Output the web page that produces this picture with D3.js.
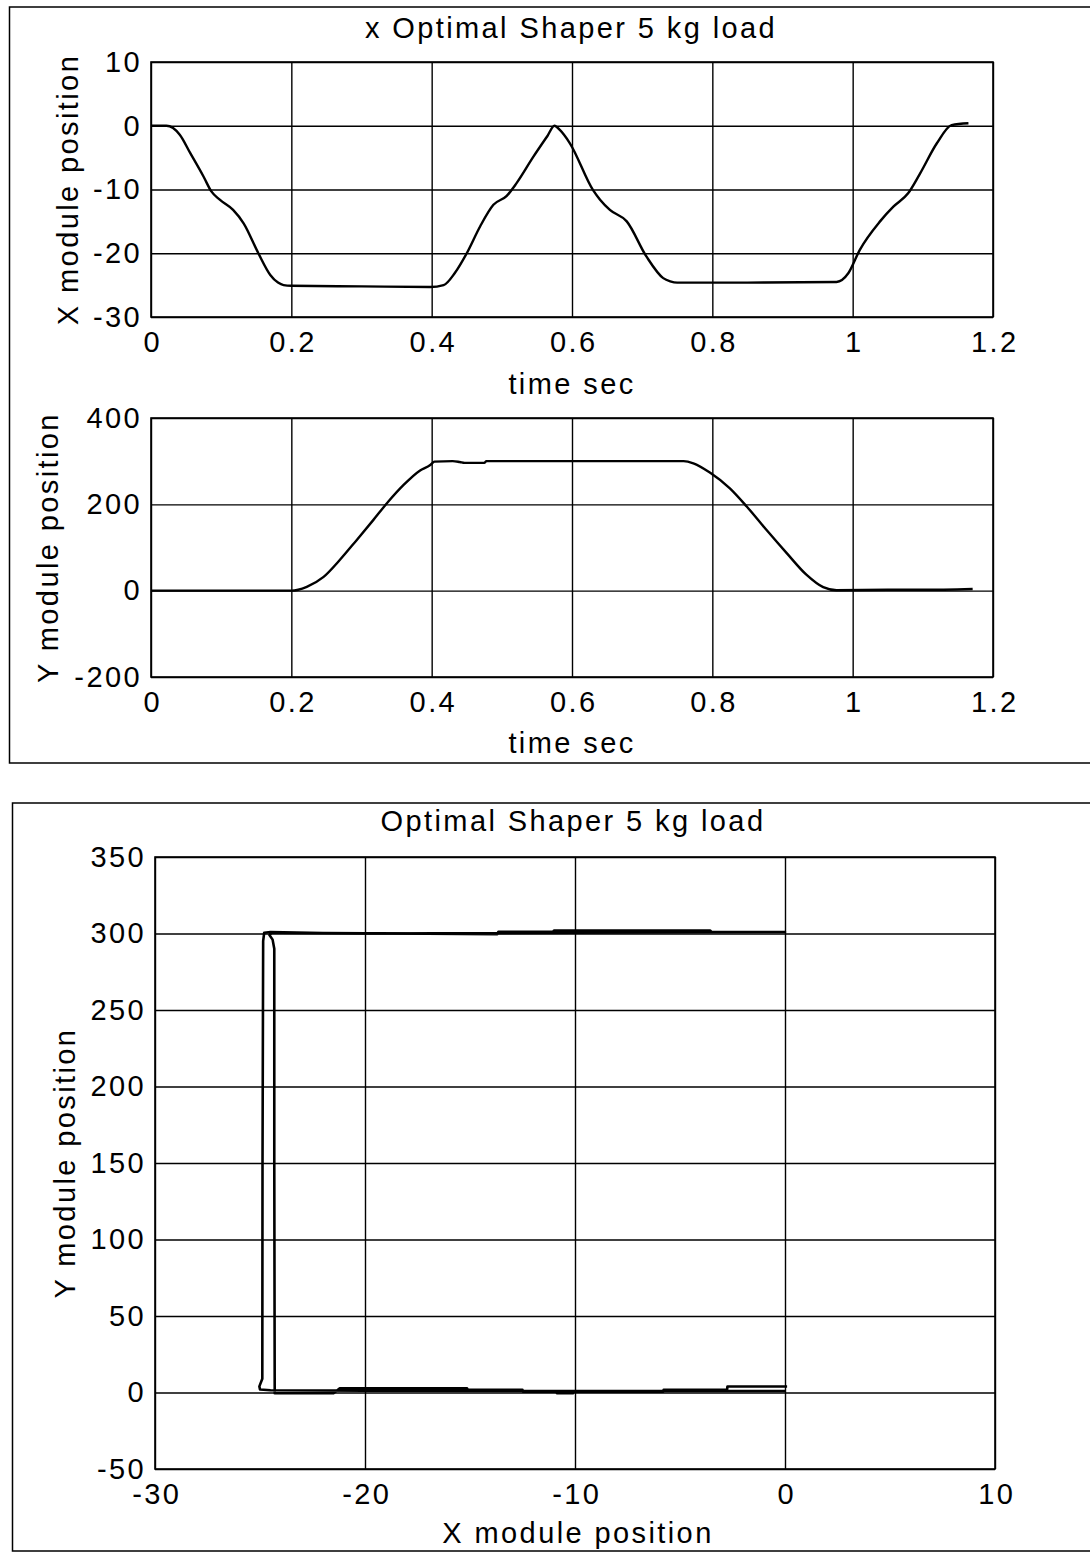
<!DOCTYPE html>
<html>
<head>
<meta charset="utf-8">
<script src="https://cdn.jsdelivr.net/npm/d3@7"></script>
<style>
  html, body { margin: 0; padding: 0; background: #fff; }
  svg { display: block; }
  text { font-family: "Liberation Sans", Arial, sans-serif; fill: #000; }
</style>
</head>
<body>
<svg id="chart" width="1090" height="1553"></svg>
<script>
// ---- X module position over time (optimal shaper, 5 kg load) ----
const timeX = [0, 0.022, 0.041, 0.056, 0.075, 0.086, 0.098, 0.117, 0.132, 0.153, 0.170, 0.181, 0.189, 0.20, 0.30, 0.398,
  0.417, 0.433, 0.45, 0.469, 0.488, 0.507, 0.521, 0.545, 0.565, 0.575, 0.583, 0.597, 0.630, 0.640, 0.654, 0.678, 0.706,
  0.730, 0.740, 0.750, 0.85, 0.977, 0.994, 1.010, 1.039, 1.058, 1.079, 1.096, 1.12, 1.141, 1.165];
const xModule = [0, 0, -1.4, -4.3, -8.0, -10.3, -11.6, -13.2, -15.3, -20.0, -23.4, -24.6, -25.0, -25.1, -25.2, -25.3,
  -25.0, -23.1, -20, -15.8, -12.4, -11.0, -9.0, -4.85, -1.6, 0, -0.7, -2.75, -10.1, -11.6, -13.2, -15.0, -20.5,
  -23.9, -24.4, -24.6, -24.6, -24.5, -23.1, -19.5, -15.0, -12.7, -10.6, -7.5, -2.75, 0.1, 0.4];

// ---- Y module position over time ----
const timeY = [0, 0.10, 0.20, 0.222, 0.246, 0.269, 0.293, 0.317, 0.338, 0.360, 0.383, 0.398, 0.404, 0.43, 0.44, 0.447,
  0.475, 0.478, 0.50, 0.60, 0.70, 0.759, 0.773, 0.797, 0.825, 0.849, 0.877, 0.906, 0.934, 0.958, 0.977, 1.05, 1.10, 1.171];
const yModule = [0, 0, 0, 9, 32, 71, 117, 164, 206, 245, 278, 291, 299, 300, 298, 296,
  296, 300, 300, 300, 300, 300, 295, 273, 237, 195, 141, 87, 37, 8, 1, 2, 2, 4];

// ---- X-Y trajectory of the module ----
const pathX = [0, -10, -20, -24.5, -25.0, -25.03, -24.89, -24.88, -24.85, -24.8,
  -24.5, -22, -13.7, -13.65, -11.05, -11.0, -3.57, -3.5, 0,
  -10, -20, -24.0, -24.45, -24.55, -24.4, -24.32, -24.32, -24.3, -24.3,
  -21.5, -21.2, -15.14, -15.1, -12.5, -12.48, -10.9, -10.85, -10.1, -10.05, -5.8, -5.78, -2.76, -2.74, 0.1];
const pathY = [1, 1, 1.2, 1.5, 2, 4, 9, 150, 295, 300.5,
  301, 300.3, 299.6, 301.1, 301.1, 302, 302, 301, 301,
  300.5, 300, 300.5, 300.5, 299, 296, 290, 150, 3, -0.5,
  -0.5, 2.8, 2.8, 1.7, 1.7, 0.6, 0.6, -0.5, -0.5, 0.6, 0.6, 1.7, 1.7, 3.9, 3.9];

// ---- tick values ----
const timeTicks = [0, 0.2, 0.4, 0.6, 0.8, 1, 1.2];
const xModuleTicks = [-30, -20, -10, 0, 10];
const yModuleTicks = [-200, 0, 200, 400];
const trajXTicks = [-30, -20, -10, 0, 10];
const trajYTicks = [-50, 0, 50, 100, 150, 200, 250, 300, 350];

const svg = d3.select("#chart");
const FONT = 29;
const SPACING = 2.4;

// figure frames
svg.append("path")
  .attr("d", "M1095,7 H9.5 V763 H1095")
  .attr("fill", "none").attr("stroke", "#000").attr("stroke-width", 1.5);
svg.append("path")
  .attr("d", "M1095,803 H12.5 V1551 H1095")
  .attr("fill", "none").attr("stroke", "#000").attr("stroke-width", 1.5);

function styleText(sel) {
  sel.attr("font-size", FONT)
    .attr("font-family", '"Liberation Sans", Arial, sans-serif')
    .attr("letter-spacing", SPACING)
    .attr("fill", "#000");
}

function panel(opt) {
  const x = d3.scaleLinear().domain(opt.xDomain).range([opt.left, opt.right]);
  const y = d3.scaleLinear().domain(opt.yDomain).range([opt.bottom, opt.top]);
  const g = svg.append("g");
  const h = opt.bottom - opt.top, w = opt.right - opt.left;

  const fmt = d => String(d);
  const xa = g.append("g").attr("transform", `translate(0,${opt.bottom})`)
    .call(d3.axisBottom(x).tickValues(opt.xTicks).tickFormat(fmt)
      .tickSizeInner(-h).tickSizeOuter(0).tickPadding(opt.xPad));
  const ya = g.append("g").attr("transform", `translate(${opt.left},0)`)
    .call(d3.axisLeft(y).tickValues(opt.yTicks).tickFormat(fmt)
      .tickSizeInner(-w).tickSizeOuter(0).tickPadding(9));
  [xa, ya].forEach(a => {
    a.select(".domain").remove();
    a.selectAll("line").attr("stroke", "#000").attr("stroke-width", 1.4);
    styleText(a.selectAll("text"));
  });
  xa.selectAll("text").attr("dx", SPACING / 2);

  g.append("rect")
    .attr("x", opt.left).attr("y", opt.top).attr("width", w).attr("height", h)
    .attr("fill", "none").attr("stroke", "#000").attr("stroke-width", 1.6);

  const line = d3.line().x(d => x(d[0])).y(d => y(d[1])).curve(opt.curve || d3.curveLinear);
  g.append("path")
    .datum(opt.xs.map((v, i) => [v, opt.ys[i]]))
    .attr("d", line)
    .attr("fill", "none").attr("stroke", "#000").attr("stroke-width", opt.lw || 2.4)
    .attr("stroke-linejoin", "round");

  if (opt.xLabel) {
    styleText(g.append("text").attr("x", opt.xLabelX).attr("y", opt.xLabelY)
      .attr("text-anchor", "middle").text(opt.xLabel));
  }
  if (opt.yLabel) {
    styleText(g.append("text")
      .attr("transform", `translate(${opt.yLabelX},${(opt.top + opt.bottom) / 2}) rotate(-90)`)
      .attr("text-anchor", "middle").text(opt.yLabel));
  }
  if (opt.title) {
    styleText(g.append("text").attr("x", opt.titleX).attr("y", opt.titleY)
      .attr("text-anchor", "middle").text(opt.title));
  }
}

panel({
  left: 151, right: 993, top: 62, bottom: 317,
  xDomain: [0, 1.2], yDomain: [-30, 10],
  xTicks: timeTicks, yTicks: xModuleTicks, xPad: 14,
  xs: timeX, ys: xModule, curve: d3.curveMonotoneX,
  title: "x Optimal Shaper 5 kg load", titleX: 571, titleY: 38,
  xLabel: "time sec", xLabelX: 572, xLabelY: 394,
  yLabel: "X module position", yLabelX: 78
});

panel({
  left: 151, right: 993, top: 418, bottom: 677,
  xDomain: [0, 1.2], yDomain: [-200, 400],
  xTicks: timeTicks, yTicks: yModuleTicks, xPad: 14,
  xs: timeY, ys: yModule, curve: d3.curveMonotoneX,
  xLabel: "time sec", xLabelX: 572, xLabelY: 753,
  yLabel: "Y module position", yLabelX: 58
});

panel({
  left: 155, right: 995, top: 857, bottom: 1469,
  xDomain: [-30, 10], yDomain: [-50, 350],
  xTicks: trajXTicks, yTicks: trajYTicks, xPad: 14,
  xs: pathX, ys: pathY, lw: 2.6,
  title: "Optimal Shaper 5 kg load", titleX: 573, titleY: 831,
  xLabel: "X module position", xLabelX: 578, xLabelY: 1543,
  yLabel: "Y module position", yLabelX: 75
});
</script>
</body>
</html>
